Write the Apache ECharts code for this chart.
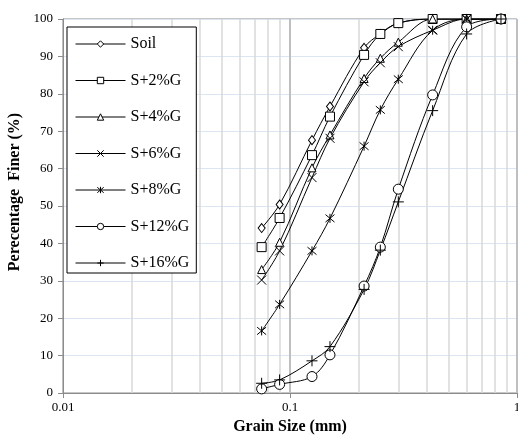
<!DOCTYPE html>
<html>
<head>
<meta charset="utf-8">
<script src="https://cdn.jsdelivr.net/npm/echarts@6/dist/echarts.min.js"></script>
<style>
  html, body { margin: 0; padding: 0; background: #fff; }
  #chart { width: 518px; height: 436px; }
</style>
</head>
<body>
<div id="chart"></div>
<script>
// Sieve sizes (mm)
const sizes = [0.075, 0.09, 0.125, 0.15, 0.212, 0.25, 0.3, 0.425, 0.6, 0.85];

// Percentage finer for each mix
const soil  = [44.1, 50.4, 67.6, 76.6, 92.3, 96.0, 98.9, 100, 100, 100];
const g2    = [39.0, 46.8, 63.6, 73.9, 90.4, 96.0, 98.9, 100, 100, 100];
const g4    = [33.0, 40.3, 60.2, 69.0, 84.1, 89.5, 93.8, 100, 100, 100];
const g6    = [30.2, 38.0, 57.6, 68.1, 83.2, 88.3, 92.6, 97.0, 100, 100];
const g8    = [16.6, 23.7, 38.0, 46.7, 66.0, 75.7, 83.9, 97.0, 100, 100];
const g12   = [1.1, 2.3, 4.4, 10.2, 28.6, 39.0, 54.5, 79.7, 97.9, 100];
const g16   = [2.6, 3.5, 8.6, 12.4, 27.7, 38.2, 51.1, 75.5, 96.0, 100];

const seriesNames = ['Soil', 'S+2%G', 'S+4%G', 'S+6%G', 'S+8%G', 'S+12%G', 'S+16%G'];
const seriesValues = [soil, g2, g4, g6, g8, g12, g16];

// Y axis tick range
const yMin = 0, yMax = 100, yStep = 10;
// X axis decades
const xMin = 0.01, xMax = 1;

const symbols = [
  { symbol: 'diamond', size: [7, 9] },
  { symbol: 'rect', size: 9 },
  { symbol: 'triangle', size: 8 },
  { symbol: 'path://M0,0L10,10M10,0L0,10', size: 9 },
  { symbol: 'path://M0,0L10,10M10,0L0,10M5,-1L5,11', size: 9 },
  { symbol: 'circle', size: 10 },
  { symbol: 'path://M5,0L5,10M-1,5L11,5', size: 11 }
];

// Minor log grid positions inside each decade
const minorGrid = [];
for (let d = xMin; d < xMax - 1e-9; d *= 10) {
  for (let k = 2; k <= 9; k++) minorGrid.push(+(d * k).toPrecision(3));
}

const serif = 'Liberation Serif';

const series = seriesNames.map((name, i) => ({
  name: name,
  type: 'line',
  data: sizes.map((s, j) => [s, seriesValues[i][j]]),
  smooth: 0.35,
  symbol: symbols[i].symbol,
  symbolSize: symbols[i].size,
  showAllSymbol: true,
  lineStyle: { color: '#000', width: 1 },
  itemStyle: { color: '#fff', borderColor: '#000', borderWidth: 1 },
  emphasis: { disabled: true },
  z: 3
}));

series.unshift({
  name: 'grid',
  type: 'scatter',
  data: [],
  silent: true,
  z: 0,
  markLine: {
    silent: true,
    symbol: 'none',
    animation: false,
    z: 0,
    label: { show: false },
    lineStyle: { color: '#d9d9d9', width: 1.5, type: 'solid' },
    data: minorGrid.map(v => ({ xAxis: v }))
  }
});

const chart = echarts.init(document.getElementById('chart'));
chart.setOption({
  animation: false,
  backgroundColor: '#fff',
  grid: {
    left: 63, top: 19, right: 1, bottom: 43,
    outerBoundsMode: 'none',
    containLabel: false,
    show: true, borderColor: '#8c8c8c', borderWidth: 1
  },
  legend: {
    data: seriesNames,
    orient: 'vertical',
    z: 20,
    left: 67,
    top: 27,
    itemWidth: 50,
    itemHeight: 8,
    itemGap: 20.5,
    padding: [9, 7, 2, 8],
    borderColor: '#000',
    borderWidth: 1,
    backgroundColor: '#fff',
    lineStyle: { width: 1, color: '#000' },
    itemStyle: { borderWidth: 1 },
    textStyle: { fontFamily: serif, fontSize: 16, color: '#000' }
  },
  xAxis: {
    type: 'log',
    logBase: 10,
    min: xMin,
    max: xMax,
    name: 'Grain Size (mm)',
    nameLocation: 'middle',
    nameGap: 25,
    nameTextStyle: { fontFamily: serif, fontSize: 16, fontWeight: 'bold', color: '#000' },
    axisLine: { lineStyle: { color: '#8c8c8c', width: 1 } },
    axisTick: { show: true, length: 5, lineStyle: { color: '#8c8c8c' } },
    axisLabel: {
      fontFamily: serif, fontSize: 13, color: '#000', margin: 8,
      formatter: v => String(+v.toPrecision(3))
    },
    splitLine: { show: true, lineStyle: { color: '#bfbfbf', width: 2 } }
  },
  yAxis: {
    type: 'value',
    min: yMin,
    max: yMax,
    interval: yStep,
    name: 'Perecentage  Finer (%)',
    nameLocation: 'middle',
    nameGap: 37,
    nameTextStyle: {
      fontFamily: serif, fontSize: 16, fontWeight: 'bold', color: '#000',
      padding: [0, 0, 0, 28]
    },
    axisLine: { show: true, lineStyle: { color: '#8c8c8c', width: 1 } },
    axisTick: { show: true, length: 5, lineStyle: { color: '#8c8c8c' } },
    axisLabel: { fontFamily: serif, fontSize: 13, color: '#000', margin: 10 },
    splitLine: { show: true, lineStyle: { color: '#dce6f2', width: 1 } }
  },
  series: series
});
</script>
</body>
</html>
